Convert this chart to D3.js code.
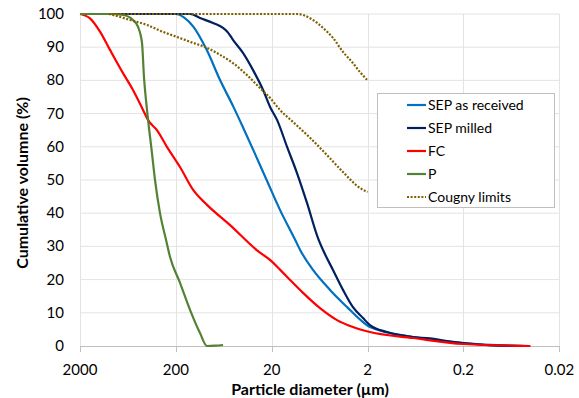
<!DOCTYPE html>
<html>
<head>
<meta charset="utf-8">
<script src="https://cdn.jsdelivr.net/npm/d3@7"></script>
<style>
  body { margin: 0; background: #fff; }
  text { font-family: Lato, "Open Sans", sans-serif; fill: #000; }
</style>
</head>
<body>
<div id="chart"></div>
<script>
// diameter (µm) and cumulative volume (%)
var sepReceivedD = [2000, 200, 165, 131.6, 95.4, 69.2, 50.3, 39.5, 31.1, 22.6, 16.4, 11.4, 10.1, 7.42, 4.93, 3.27, 2.23, 1.89, 0.67, 0.2, 0.061, 0.045];
var sepReceivedV = [100, 100, 99, 96.2, 89.2, 80.1, 72.1, 65.6, 59, 50, 41, 32, 28.9, 22.9, 16.9, 11.7, 7.2, 5.7, 2.7, 0.9, 0.1, 0];

var sepMilledD = [2000, 142, 112, 81.9, 64.4, 57.1, 50.7, 39.9, 31.3, 24.6, 20.8, 17.6, 13.8, 10.9, 8.57, 6.58, 5.83, 4.59, 3.61, 2.84, 2.23, 1.89, 1.25, 0.67, 0.447, 0.297, 0.2, 0.089, 0.045];
var sepMilledV = [100, 100, 98.8, 97.3, 95.8, 94.4, 92.2, 88.3, 83.1, 77.1, 72, 68.1, 59.9, 52.1, 43.1, 32.5, 28.9, 22.9, 16.9, 11.7, 8.4, 6.3, 4.2, 2.7, 2.3, 1.5, 0.9, 0.1, 0];

var fcD = [2000, 1572, 1237, 973, 712, 560, 440, 391, 315, 247, 181, 132, 94.6, 54.4, 28.7, 20, 16.4, 13.8, 9.42, 6.27, 4.17, 2.84, 1.89, 0.67, 0.2, 0.04];
var fcV = [100, 98.7, 94.7, 89.2, 82.2, 77.1, 71.1, 68.1, 65, 59.9, 53.9, 47, 42.5, 36.4, 28.9, 25.5, 23, 20.8, 16, 11.4, 7.8, 5.7, 4.2, 2.4, 0.6, 0];

var pD = [2000, 973, 712, 560, 496, 451, 430, 400, 355, 330, 293, 253, 230, 181, 142, 112, 94.6, 78, 64.4];
var pV = [100, 100, 99.7, 98.2, 96.1, 91.3, 81, 71.1, 58.1, 50, 40.1, 31.9, 26.8, 19, 10.8, 3.9, 0, 0.1, 0.3];

var cougnyUpperD = [1000, 10.9, 7.42, 5.83, 4.59, 3.61, 2.84, 2.4, 2];
var cougnyUpperV = [100, 100, 98.2, 95.8, 92.8, 88.6, 85.2, 82.5, 80];

var cougnyLowerD = [1000, 906, 601, 400, 272, 195, 132, 94.6, 69.2, 50.7, 36.2, 26.5, 20.8, 16.4, 12, 7.96, 5.3, 3.61, 2.4, 2];
var cougnyLowerV = [100, 99.7, 98.2, 96.7, 94.6, 93.1, 91.3, 89.8, 87.7, 85.2, 81.6, 77.7, 74.7, 71.1, 67.5, 62.7, 57.5, 52.4, 47.6, 46.4];

var xTicks = [2000, 200, 20, 2, 0.2, 0.02];
var xTickLabels = ["2000", "200", "20", "2", "0.2", "0.02"];
var yTicks = [0, 10, 20, 30, 40, 50, 60, 70, 80, 90, 100];

var legendNames = ["SEP as received", "SEP milled", "FC", "P", "Cougny limits"];
var legendColors = ["#0070c0", "#002060", "#ff0000", "#548235", "#7f6000"];

const width = 579;
const height = 398;

var svg = d3.select("#chart").append("svg")
    .attr("width", width)
    .attr("height", height);

var x = d3.scaleLog().domain([2000, 0.02]).range([80, 559.3]);
var y = d3.scaleLinear().domain([0, 100]).range([346, 14]);

// grid
svg.selectAll(".hgrid").data(yTicks.slice(1))
    .enter().append("line")
    .attr("x1", x(2000)).attr("x2", x(0.02))
    .attr("y1", d => y(d)).attr("y2", d => y(d))
    .attr("stroke", "#e3e3e3").attr("stroke-width", 1);

svg.selectAll(".vgrid").data(xTicks)
    .enter().append("line")
    .attr("x1", d => Math.round(x(d)) + 0.5).attr("x2", d => Math.round(x(d)) + 0.5)
    .attr("y1", y(100)).attr("y2", y(0) + 5)
    .attr("stroke", "#e3e3e3").attr("stroke-width", 1);

// bottom axis line + ticks
svg.append("line")
    .attr("x1", x(2000)).attr("x2", x(0.02))
    .attr("y1", y(0) + 0.5).attr("y2", y(0) + 0.5)
    .attr("stroke", "#bfbfbf").attr("stroke-width", 1);
svg.selectAll(".xtick").data(xTicks)
    .enter().append("line")
    .attr("x1", d => Math.round(x(d)) + 0.5).attr("x2", d => Math.round(x(d)) + 0.5)
    .attr("y1", y(0)).attr("y2", y(0) + 6)
    .attr("stroke", "#bfbfbf");

// tick labels
svg.selectAll(".xlabel").data(xTicks)
    .enter().append("text")
    .attr("x", d => x(d)).attr("y", 375)
    .attr("text-anchor", "middle")
    .style("font-size", "15px")
    .text((d, i) => xTickLabels[i]);

svg.selectAll(".ylabel").data(yTicks)
    .enter().append("text")
    .attr("x", 64).attr("y", d => y(d) + 5)
    .attr("text-anchor", "end")
    .style("font-size", "15px")
    .text(d => d);

// axis titles
svg.append("text")
    .attr("x", 310).attr("y", 395)
    .attr("text-anchor", "middle")
    .style("font-size", "16px").style("font-weight", "bold")
    .text("Particle diameter (µm)");

svg.append("text")
    .attr("transform", "translate(28,183) rotate(-90)")
    .attr("text-anchor", "middle")
    .style("font-size", "16px").style("font-weight", "bold")
    .text("Cumulative volumne (%)");

// series
var line = d3.line()
    .x(d => x(d[0]))
    .y(d => y(d[1]))
    .curve(d3.curveMonotoneX);

function pairs(ds, vs) {
    return ds.map((d, i) => [d, vs[i]]);
}

var series = [
    {data: pairs(sepReceivedD, sepReceivedV), color: legendColors[0], dash: null},
    {data: pairs(sepMilledD, sepMilledV), color: legendColors[1], dash: null},
    {data: pairs(fcD, fcV), color: legendColors[2], dash: null},
    {data: pairs(pD, pV), color: legendColors[3], dash: null},
    {data: pairs(cougnyUpperD, cougnyUpperV), color: legendColors[4], dash: "2,1.6"},
    {data: pairs(cougnyLowerD, cougnyLowerV), color: legendColors[4], dash: "2,1.6"}
];

series.forEach(function(s) {
    svg.append("path")
        .attr("d", line(s.data))
        .attr("fill", "none")
        .attr("stroke", s.color)
        .attr("stroke-width", 2.2)
        .attr("stroke-dasharray", s.dash);
});

// legend
var legend = svg.append("g");
legend.append("rect")
    .attr("x", 377.5).attr("y", 93.5)
    .attr("width", 177).attr("height", 114)
    .attr("fill", "#fff").attr("stroke", "#bfbfbf");

legendNames.forEach(function(name, i) {
    var ly = 105 + i * 23;
    legend.append("line")
        .attr("x1", 407).attr("x2", 426)
        .attr("y1", ly).attr("y2", ly)
        .attr("stroke", legendColors[i])
        .attr("stroke-width", 2.2)
        .attr("stroke-dasharray", i == 4 ? "2,1.6" : null);
    legend.append("text")
        .attr("x", 428).attr("y", ly + 5)
        .style("font-size", "14px")
        .text(name);
});
</script>
</body>
</html>
